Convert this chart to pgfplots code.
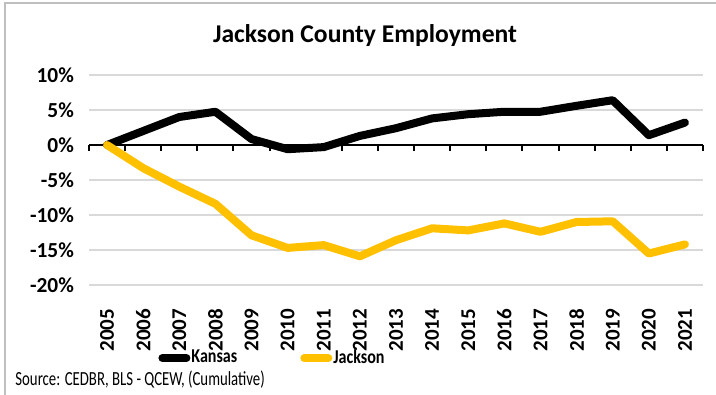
\documentclass[border=0pt]{standalone}
\usepackage{pgfplots}
\pgfplotsset{compat=1.18}
\usepackage{fontspec}
\setmainfont{Carlito}
\definecolor{jackgold}{HTML}{FFC000}
\definecolor{gridgray}{HTML}{D9D9D9}
\definecolor{framegray}{HTML}{BFBFBF}
\begin{document}
\begin{tikzpicture}
\useasboundingbox (0pt,0pt) rectangle (358pt,-197.5pt);
\draw[framegray,line width=0.8pt] (2.5pt,-197.5pt) -- (2.5pt,-1.5pt) -- (358pt,-1.5pt);
\node[font=\fontsize{12.8}{15}\selectfont\bfseries] at (182.5pt,-18pt) {Jackson County Employment};
\begin{axis}[
    at={(44.5pt,-142.5pt)}, anchor=south west,
    scale only axis,
    width=307pt, height=105pt,
    xmin=-0.5, xmax=16.5,
    ymin=-20, ymax=10,
    xtick={0,...,16},
    xticklabels={2005,2006,2007,2008,2009,2010,2011,2012,2013,2014,2015,2016,2017,2018,2019,2020,2021},
    ytick={-20,-15,-10,-5,0,5,10},
    yticklabels={-20\%,-15\%,-10\%,-5\%,0\%,5\%,10\%},
    xticklabel style={rotate=90, anchor=east, font=\fontsize{10.5}{12}\selectfont\bfseries},
    yticklabel style={font=\fontsize{10.7}{12}\selectfont\bfseries},
    xtick pos=bottom, ytick pos=left,
    major tick length=0pt,
    xticklabel shift=8.5pt,
    yticklabel shift=4pt,
    axis line style={draw=none},
    ymajorgrids,
    grid style={gridgray, line width=0.75pt},
    legend columns=2,
    legend style={at={(0.298,-0.348)}, anchor=center, draw=none, fill=none,
        font=\fontsize{9.8}{11}\selectfont\bfseries,
        /tikz/every even column/.append style={column sep=31pt},
        nodes={inner xsep=0.5pt},
        inner sep=0pt},
    legend image code/.code={\draw[#1, line cap=round] (0pt,0pt) -- (12pt,0pt);},
    clip=false,
]
% zero line with category ticks
\draw[black, line width=1pt] (axis cs:-0.5,0) -- (axis cs:16.5,0);
\pgfplotsinvokeforeach{-0.5,0.5,...,16.5}{
    \draw[black, line width=1pt] (axis cs:#1,0) -- ++(0pt,-3pt);
}
\addplot[black, line width=4pt, line cap=round, line join=round] coordinates {
    (0,0) (1,2.0) (2,4.0) (3,4.75) (4,0.85) (5,-0.6) (6,-0.3) (7,1.3) (8,2.4)
    (9,3.8) (10,4.4) (11,4.75) (12,4.75) (13,5.6) (14,6.4) (15,1.4) (16,3.2)
};
\addlegendentry{\scalebox{0.82}[1]{Kansas}}
\addplot[jackgold, line width=4pt, line cap=round, line join=round] coordinates {
    (0,0) (1,-3.3) (2,-5.95) (3,-8.4) (4,-12.9) (5,-14.7) (6,-14.3) (7,-15.9) (8,-13.6)
    (9,-11.9) (10,-12.2) (11,-11.2) (12,-12.4) (13,-11.0) (14,-10.9) (15,-15.5) (16,-14.2)
};
\addlegendentry{\scalebox{0.82}[1]{Jackson}}
\end{axis}
\node[anchor=west, inner sep=0pt, font=\fontsize{10}{12}\selectfont] at (7.5pt,-190pt) {\scalebox{0.74}[1]{Source: CEDBR, BLS - QCEW, (Cumulative)}};
\end{tikzpicture}
\end{document}
